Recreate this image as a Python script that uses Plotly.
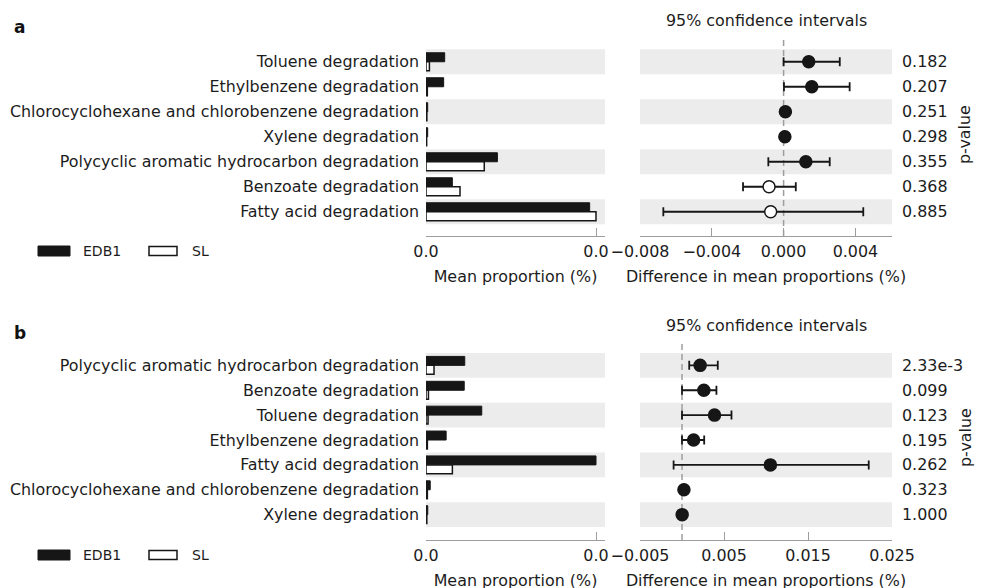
import plotly.graph_objects as go

# ---------------- data ----------------
cats_a = ["Toluene degradation", "Ethylbenzene degradation",
          "Chlorocyclohexane and chlorobenzene degradation", "Xylene degradation",
          "Polycyclic aromatic hydrocarbon degradation", "Benzoate degradation",
          "Fatty acid degradation"]
edb1_a = [0.00198, 0.00187, 0.00018, 0.00018, 0.00756, 0.00279, 0.01733]
sl_a = [0.00036, 0.00014, 0.00009, 0.00007, 0.00617, 0.00360, 0.01800]
diff_a = [0.00140, 0.00157, 0.00010, 0.00007, 0.00124, -0.00081, -0.00072]
low_a = [0.00000, 0.00002, 0.00005, 0.00004, -0.00085, -0.00226, -0.00670]
up_a = [0.00313, 0.00368, 0.00015, 0.00010, 0.00257, 0.00068, 0.00444]
p_a = [0.182, 0.207, 0.251, 0.298, 0.355, 0.368, 0.885]
ci_ticks_a = [-0.008, -0.004, 0.000, 0.004]

cats_b = ["Polycyclic aromatic hydrocarbon degradation", "Benzoate degradation",
          "Toluene degradation", "Ethylbenzene degradation", "Fatty acid degradation",
          "Chlorocyclohexane and chlorobenzene degradation", "Xylene degradation"]
edb1_b = [0.00285, 0.00281, 0.00410, 0.00148, 0.01250, 0.00031, 0.00013]
sl_b = [0.00059, 0.00018, 0.00015, 0.00010, 0.00194, 0.00010, 0.00006]
diff_b = [0.00216, 0.00260, 0.00387, 0.00138, 0.01052, 0.00023, 0.00002]
low_b = [0.00086, 0.00000, 0.00000, 0.00000, -0.00100, 0.00010, -0.00010]
up_b = [0.00426, 0.00410, 0.00589, 0.00264, 0.02223, 0.00036, 0.00010]
p_b = [0.00233, 0.099, 0.123, 0.195, 0.262, 0.323, 1.000]
ci_ticks_b = [-0.005, 0.005, 0.015, 0.025]

groups = ["EDB1", "SL"]

# ---------------- style ----------------
W, H = 985, 588
OFF = 8  # page body margin in the browser
FONT = "DejaVu Sans"
FS = 15.9
TXT = "#1c1c1c"
BAND = "#ebeceb"
AX = "#9d9d9d"
DARK = "#161616"


def px(x):
    return (x - OFF) / W


def py(y):
    return 1 - (y - OFF) / H


def fmt_p(p):
    if p < 0.01:
        m, e = f"{p:.2e}".split("e")
        return f"{m}e{int(e)}"
    return f"{p:.3f}"


fig = go.Figure()
shapes = []
annotations = []

panels = [
    dict(cats=cats_a, edb1=edb1_a, sl=sl_a, diff=diff_a, low=low_a, up=up_a, p=p_a,
         ticks=ci_ticks_a, cirange=[-0.008, 0.00604], top=39, bottom=236,
         yr=[6.97, -0.91], ax=("", "2"), label="a", labely=27, ciy=20.7,
         pvy=135, legy=251),
    dict(cats=cats_b, edb1=edb1_b, sl=sl_b, diff=diff_b, low=low_b, up=up_b, p=p_b,
         ticks=ci_ticks_b, cirange=[-0.005, 0.025], top=340, bottom=540,
         yr=[7.02, -1.02], ax=("3", "4"), label="b", labely=333, ciy=325,
         pvy=438, legy=555),
]

layout_axes = {}
for k, P in enumerate(panels):
    bi, ci = P["ax"]
    bx, by = "x" + bi, "y" + bi
    cx, cy = "x" + ci, "y" + ci
    rows = list(range(len(P["cats"])))
    T = max(max(P["edb1"]), max(P["sl"]))

    fig.add_trace(go.Bar(x=P["edb1"], y=rows, orientation="h", name=groups[0],
                         marker=dict(color=DARK, line=dict(color=DARK, width=1)),
                         xaxis=bx, yaxis=by, showlegend=False))
    fig.add_trace(go.Bar(x=P["sl"], y=rows, orientation="h", name=groups[1],
                         marker=dict(color="white", line=dict(color=DARK, width=1.5)),
                         xaxis=bx, yaxis=by, showlegend=False))
    fig.add_trace(go.Scatter(
        x=P["diff"], y=rows, mode="markers",
        marker=dict(size=12, color=[DARK if d > 0 else "white" for d in P["diff"]],
                    line=dict(color=DARK, width=1.5)),
        error_x=dict(type="data", symmetric=False,
                     array=[u - d for u, d in zip(P["up"], P["diff"])],
                     arrayminus=[d - l for d, l in zip(P["diff"], P["low"])],
                     color=DARK, thickness=1.8, width=4.5),
        xaxis=cx, yaxis=cy, showlegend=False))

    yd = [py(P["bottom"]), py(P["top"])]
    xkey_b = "xaxis" + bi
    ykey_b = "yaxis" + bi
    xkey_c = "xaxis" + ci
    ykey_c = "yaxis" + ci
    common_x = dict(showline=True, linecolor=AX, linewidth=1.3, ticks="inside",
                    ticklen=8, tickcolor=AX, tickwidth=1.3, showgrid=False,
                    zeroline=False, automargin=False,
                    tickfont=dict(family=FONT, size=FS, color=TXT),
                    ticklabelstandoff=1,
                    title=dict(font=dict(family=FONT, size=FS, color=TXT), standoff=10))
    layout_axes[xkey_b] = dict(common_x, domain=[px(426), px(605)], anchor=by,
                               range=[0, T * 179 / 170], tickvals=[0, T],
                               tickformat=".1f",
                               title=dict(common_x["title"], text="Mean proportion (%)"))
    layout_axes[ykey_b] = dict(domain=yd, anchor=bx, range=P["yr"], tickvals=rows,
                               ticktext=P["cats"], ticks="", showline=False,
                               showgrid=False, zeroline=False, ticklabelstandoff=6,
                               automargin=False,
                               tickfont=dict(family=FONT, size=FS, color=TXT))
    layout_axes[xkey_c] = dict(common_x, domain=[px(640), px(892)], anchor=cy,
                               range=P["cirange"], tickvals=P["ticks"], tickformat=".3f",
                               title=dict(common_x["title"],
                                          text="Difference in mean proportions (%)"))
    layout_axes[ykey_c] = dict(domain=yd, anchor=cx, range=P["yr"], showticklabels=False,
                               ticks="", showline=False, showgrid=False, zeroline=False,
                               automargin=False)

    for r in rows:
        if r % 2 == 0:
            for xr, yr in ((bx, by), (cx, cy)):
                shapes.append(dict(type="rect", xref=xr + " domain", yref=yr,
                                   x0=0, x1=1, y0=r - 0.5, y1=r + 0.5,
                                   fillcolor=BAND, line=dict(width=0), layer="below"))
    shapes.append(dict(type="line", xref=cx, yref=cy + " domain", x0=0, x1=0, y0=0, y1=1,
                       line=dict(color=AX, width=1.5, dash="6px,4px"), layer="below"))

    for r, p in zip(rows, P["p"]):
        annotations.append(dict(xref="paper", yref=cy, x=px(900), y=r, text=fmt_p(p),
                                showarrow=False, xanchor="left", yanchor="middle",
                                font=dict(family=FONT, size=FS, color=TXT)))
    annotations.append(dict(xref="paper", yref="paper", x=px(965), y=py(P["pvy"]),
                            text="p-value", textangle=-90, showarrow=False,
                            xanchor="center", yanchor="middle",
                            font=dict(family=FONT, size=FS, color=TXT)))
    annotations.append(dict(xref="paper", yref="paper", x=px(766), y=py(P["ciy"]),
                            text="95% confidence intervals", showarrow=False,
                            xanchor="center", yanchor="middle",
                            font=dict(family=FONT, size=FS, color=TXT)))
    annotations.append(dict(xref="paper", yref="paper", x=px(12), y=py(P["labely"]),
                            text="<b>" + P["label"] + "</b>", showarrow=False,
                            xanchor="left", yanchor="middle",
                            font=dict(family=FONT, size=17, color="#111")))
    # legend
    ly = P["legy"]
    shapes.append(dict(type="rect", xref="paper", yref="paper", x0=px(38), x1=px(70),
                       y0=py(ly + 5), y1=py(ly - 5), fillcolor=DARK,
                       line=dict(color=DARK, width=1)))
    shapes.append(dict(type="rect", xref="paper", yref="paper", x0=px(149), x1=px(177),
                       y0=py(ly + 4.5), y1=py(ly - 4.5), fillcolor="white",
                       line=dict(color=DARK, width=1.5)))
    for xx, t in ((81, groups[0]), (190, groups[1])):
        annotations.append(dict(xref="paper", yref="paper", x=px(xx), y=py(ly), text=t,
                                showarrow=False, xanchor="left", yanchor="middle",
                                font=dict(family=FONT, size=14, color=TXT)))

fig.update_layout(
    width=W, height=H, margin=dict(l=0, r=0, t=0, b=0, autoexpand=False),
    paper_bgcolor="white", plot_bgcolor="rgba(0,0,0,0)",
    barmode="group", bargap=0.28, bargroupgap=0,
    shapes=shapes, annotations=annotations, showlegend=False,
    font=dict(family=FONT, size=FS, color=TXT),
    **layout_axes,
)

fig.write_html("out.html")
